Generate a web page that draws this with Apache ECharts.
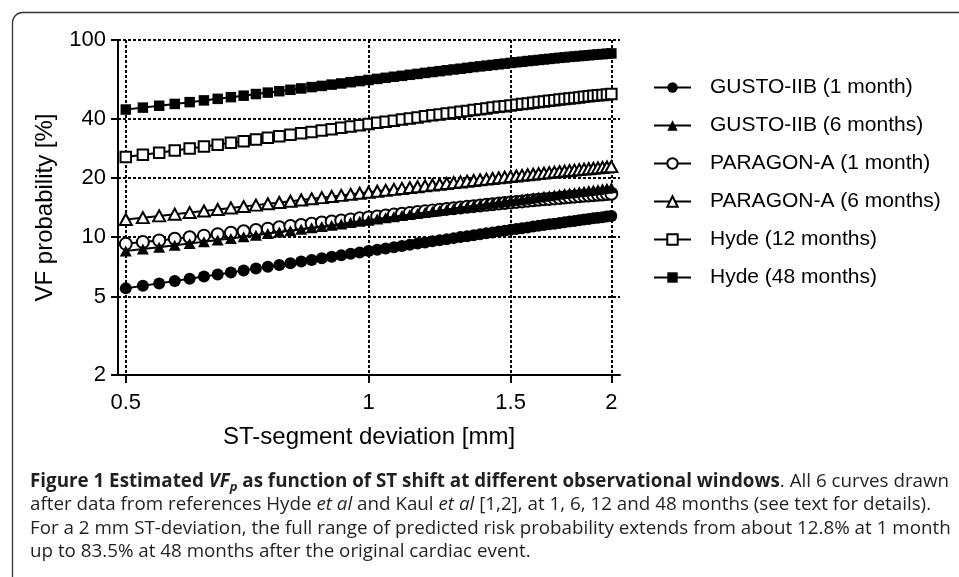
<!DOCTYPE html>
<html>
<head>
<meta charset="utf-8">
<title>VF probability vs ST-segment deviation</title>
<script src="https://cdn.jsdelivr.net/npm/echarts@6.0.0/dist/echarts.min.js"></script>
<style>
  html, body { margin: 0; padding: 0; background: #fff; }
  #chart { width: 959px; height: 577px; }
</style>
</head>
<body>
<div id="chart"></div>
<script>
// ST-segment deviation [mm], sampled every 0.025 mm
const stDeviation = [
  0.5, 0.525, 0.55, 0.575, 0.6, 0.625, 0.65, 0.675, 0.7, 0.725,
  0.75, 0.775, 0.8, 0.825, 0.85, 0.875, 0.9, 0.925, 0.95, 0.975,
  1, 1.025, 1.05, 1.075, 1.1, 1.125, 1.15, 1.175, 1.2, 1.225,
  1.25, 1.275, 1.3, 1.325, 1.35, 1.375, 1.4, 1.425, 1.45, 1.475,
  1.5, 1.525, 1.55, 1.575, 1.6, 1.625, 1.65, 1.675, 1.7, 1.725,
  1.75, 1.775, 1.8, 1.825, 1.85, 1.875, 1.9, 1.925, 1.95, 1.975,
  2
];

// VF probability [%]
const gusto1m = [
  5.50, 5.67, 5.83, 5.99, 6.15, 6.31, 6.47, 6.62, 6.78, 6.93,
  7.08, 7.23, 7.38, 7.52, 7.67, 7.81, 7.95, 8.09, 8.23, 8.37,
  8.50, 8.63, 8.77, 8.90, 9.02, 9.15, 9.28, 9.40, 9.53, 9.65,
  9.77, 9.89, 10.01, 10.12, 10.24, 10.35, 10.46, 10.57, 10.68, 10.79,
  10.90, 11.01, 11.11, 11.21, 11.32, 11.42, 11.52, 11.62, 11.71, 11.81,
  11.91, 12.00, 12.09, 12.19, 12.28, 12.37, 12.46, 12.54, 12.63, 12.72,
  12.80
];
const gusto6m = [
  8.50, 8.70, 8.90, 9.09, 9.29, 9.48, 9.67, 9.86, 10.05, 10.24,
  10.43, 10.61, 10.79, 10.97, 11.15, 11.33, 11.51, 11.68, 11.86, 12.03,
  12.20, 12.37, 12.54, 12.70, 12.87, 13.03, 13.19, 13.35, 13.51, 13.67,
  13.83, 13.98, 14.13, 14.28, 14.43, 14.58, 14.73, 14.87, 15.02, 15.16,
  15.30, 15.44, 15.58, 15.71, 15.85, 15.98, 16.11, 16.24, 16.37, 16.50,
  16.63, 16.75, 16.87, 16.99, 17.11, 17.23, 17.35, 17.46, 17.58, 17.69,
  17.80
];
const paragon1m = [
  9.25, 9.44, 9.63, 9.82, 10.00, 10.18, 10.36, 10.54, 10.71, 10.88,
  11.05, 11.22, 11.38, 11.54, 11.70, 11.86, 12.01, 12.16, 12.31, 12.46,
  12.60, 12.74, 12.88, 13.02, 13.15, 13.28, 13.41, 13.54, 13.67, 13.79,
  13.91, 14.03, 14.14, 14.26, 14.37, 14.48, 14.59, 14.69, 14.80, 14.90,
  15.00, 15.10, 15.19, 15.29, 15.38, 15.47, 15.56, 15.64, 15.73, 15.81,
  15.89, 15.97, 16.05, 16.12, 16.20, 16.27, 16.34, 16.41, 16.47, 16.54,
  16.60
];
const paragon6m = [
  12.30, 12.56, 12.82, 13.08, 13.33, 13.58, 13.82, 14.07, 14.30, 14.54,
  14.77, 15.00, 15.22, 15.44, 15.66, 15.87, 16.09, 16.29, 16.50, 16.70,
  16.90, 17.10, 17.29, 17.48, 17.67, 17.85, 18.03, 18.21, 18.39, 18.56,
  18.73, 18.90, 19.06, 19.23, 19.39, 19.55, 19.70, 19.85, 20.01, 20.15,
  20.30, 20.44, 20.59, 20.73, 20.86, 21.00, 21.13, 21.26, 21.39, 21.52,
  21.64, 21.77, 21.89, 22.01, 22.13, 22.24, 22.36, 22.47, 22.58, 22.69,
  22.80
];
const hyde12m = [
  25.5, 26.2, 26.8, 27.5, 28.2, 28.8, 29.4, 30.1, 30.7, 31.3,
  31.9, 32.5, 33.1, 33.7, 34.2, 34.8, 35.3, 35.9, 36.4, 37.0,
  37.5, 38.0, 38.5, 39.0, 39.5, 40.0, 40.5, 41.0, 41.5, 41.9,
  42.4, 42.8, 43.3, 43.7, 44.2, 44.6, 45.0, 45.4, 45.8, 46.2,
  46.6, 47.0, 47.4, 47.7, 48.1, 48.5, 48.8, 49.2, 49.5, 49.9,
  50.2, 50.5, 50.8, 51.1, 51.5, 51.8, 52.1, 52.4, 52.6, 52.9,
  53.2
];
const hyde48m = [
  44.4, 45.4, 46.4, 47.4, 48.4, 49.4, 50.3, 51.3, 52.2, 53.2,
  54.1, 55.0, 55.9, 56.8, 57.7, 58.5, 59.4, 60.2, 61.1, 61.9,
  62.7, 63.5, 64.3, 65.1, 65.8, 66.6, 67.3, 68.1, 68.8, 69.5,
  70.2, 70.9, 71.5, 72.2, 72.9, 73.5, 74.1, 74.7, 75.3, 75.9,
  76.5, 77.1, 77.6, 78.2, 78.7, 79.2, 79.7, 80.2, 80.7, 81.2,
  81.6, 82.1, 82.5, 82.9, 83.3, 83.7, 84.1, 84.5, 84.8, 85.2,
  85.5
];

const seriesNames = [
  'GUSTO-IIB (1 month)', 'GUSTO-IIB (6 months)', 'PARAGON-A (1 month)',
  'PARAGON-A (6 months)', 'Hyde (12 months)', 'Hyde (48 months)'
];
const seriesValues = [gusto1m, gusto6m, paragon1m, paragon6m, hyde12m, hyde48m];
const seriesSymbols = ['circle', 'triangle', 'circle', 'triangle', 'rect', 'rect'];
const seriesFilled = [true, true, false, false, false, true];
const symbolSizes = { circle: 12, triangle: [12, 11], rect: 10.5 };

// axis ticks (both axes are logarithmic)
const xTicks = [0.5, 1, 1.5, 2];
const yTicks = [2, 5, 10, 20, 40, 100];
const xRange = [0.489, 2.05];
const yRange = [2, 100];

const axisFont = 'Liberation Sans, Arial, sans-serif';
const capFont = 'Open Sans, sans-serif';
const lg = v => Math.log10(v);
const unlg = v => String(+Math.pow(10, v).toFixed(2));

const chart = echarts.init(document.getElementById('chart'));

const series = seriesNames.map((name, i) => ({
  name: name,
  type: 'line',
  data: stDeviation.map((x, j) => [lg(x), lg(seriesValues[i][j])]),
  symbol: seriesSymbols[i],
  symbolSize: symbolSizes[seriesSymbols[i]],
  showSymbol: true,
  z: i === 1 ? 4 : 3,
  lineStyle: { color: '#000', width: 2 },
  itemStyle: {
    color: seriesFilled[i] ? '#000' : '#fff',
    borderColor: '#000',
    borderWidth: seriesFilled[i] ? 0 : 2
  },
  emphasis: { disabled: true }
}));

const gridLine = { show: true, lineStyle: { color: '#000', width: 2, type: [3, 2] } };

// caption text styles
const capBase = { fontSize: 18.8, fontFamily: capFont, fill: '#231f20', lineHeight: 23.3 };
const capStyle = extra => Object.assign({}, capBase, extra);

chart.setOption({
  animation: false,
  backgroundColor: '#fff',
  grid: { left: 118, right: 339, top: 40, bottom: 202 },
  legend: {
    orient: 'vertical',
    left: 653,
    top: 77,
    padding: 0,
    itemWidth: 37,
    itemHeight: 13,
    itemGap: 17,
    data: seriesNames,
    textStyle: { fontSize: 21, color: '#000', fontFamily: axisFont, padding: [0, 0, 0, 14] }
  },
  xAxis: {
    type: 'value',
    min: lg(xRange[0]),
    max: lg(xRange[1]),
    name: 'ST-segment deviation [mm]',
    nameLocation: 'middle',
    nameGap: 50,
    nameTextStyle: { fontSize: 24, color: '#000', fontFamily: axisFont },
    axisLine: { onZero: false, lineStyle: { color: '#000', width: 2 } },
    axisTick: { show: true, length: 8, customValues: xTicks.map(lg), lineStyle: { color: '#000', width: 2 } },
    axisLabel: { customValues: xTicks.map(lg), formatter: unlg, margin: 17, fontSize: 22, color: '#000', fontFamily: axisFont },
    splitLine: gridLine
  },
  yAxis: {
    type: 'value',
    min: lg(yRange[0]),
    max: lg(yRange[1]),
    name: 'VF probability [%]',
    nameLocation: 'middle',
    nameGap: 61,
    nameTextStyle: { fontSize: 24, color: '#000', fontFamily: axisFont },
    axisLine: { onZero: false, lineStyle: { color: '#000', width: 2 } },
    axisTick: { show: true, length: 7, customValues: yTicks.map(lg), lineStyle: { color: '#000', width: 2 } },
    axisLabel: { customValues: yTicks.map(lg), formatter: unlg, margin: 12, fontSize: 22, color: '#000', fontFamily: axisFont },
    splitLine: gridLine
  },
  graphic: [
    {
      type: 'rect',
      silent: true,
      shape: { x: 12.5, y: 12.5, width: 1000, height: 700, r: 10 },
      style: { fill: 'none', stroke: '#333', lineWidth: 1.3 }
    },
    {
      type: 'text',
      left: 30,
      top: 470,
      silent: true,
      style: Object.assign(capStyle({}), {
        text: [
          '{b|Figure 1 Estimated }{bi|VF}{sub|p}{b| as function of ST shift at different observational windows}. All 6 curves drawn',
          'after data from references Hyde {i|et al} and Kaul {i|et al} [1,2], at 1, 6, 12 and 48 months (see text for details).',
          'For a 2 mm ST-deviation, the full range of predicted risk probability extends from about 12.8% at 1 month',
          'up to 83.5% at 48 months after the original cardiac event.'
        ].join('\n'),
        rich: {
          b: capStyle({ fontWeight: 'bold' }),
          bi: capStyle({ fontWeight: 'bold', fontStyle: 'italic' }),
          sub: capStyle({ fontWeight: 'bold', fontStyle: 'italic', fontSize: 13, lineHeight: 15, verticalAlign: 'bottom' }),
          i: capStyle({ fontStyle: 'italic' })
        }
      })
    }
  ],
  series: series
});
</script>
</body>
</html>
